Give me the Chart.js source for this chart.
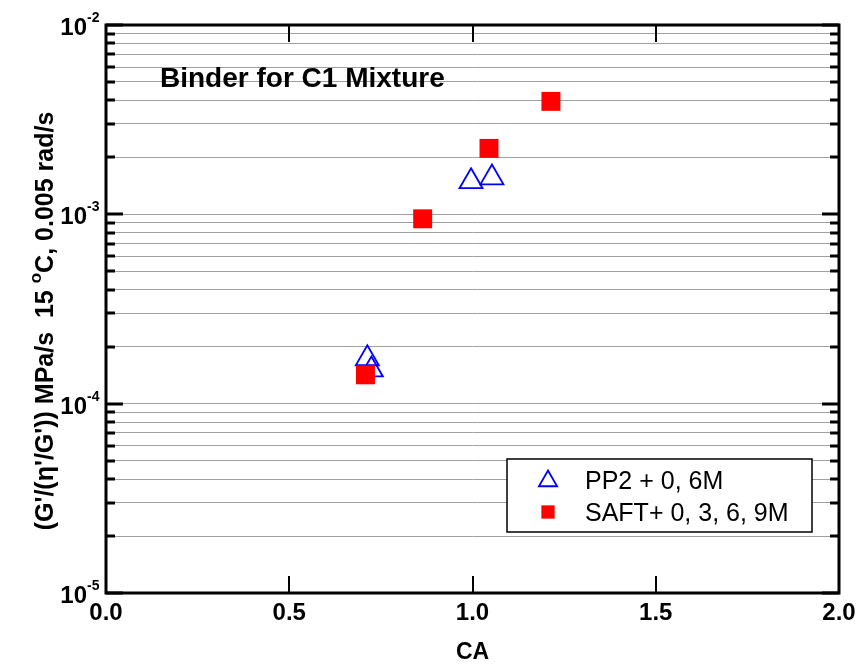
<!DOCTYPE html>
<html>
<head>
<meta charset="utf-8">
<script src="https://cdn.jsdelivr.net/npm/chart.js@4"></script>
<style>
  html, body { margin: 0; padding: 0; background: #fff; }
</style>
</head>
<body>
<canvas id="myChart" width="860" height="664"></canvas>
<script>
// values
const pp2X = [0.713, 0.724, 0.996, 1.053];
const pp2Y = [1.73e-4, 1.51e-4, 1.49e-3, 1.56e-3];
const saftX = [0.708, 0.864, 1.045, 1.214];
const saftY = [1.42e-4, 9.47e-4, 2.23e-3, 3.95e-3];

const seriesNames = ['PP2 + 0, 6M', 'SAFT+ 0, 3, 6, 9M'];
const xTicks = [0, 0.5, 1.0, 1.5, 2.0];
const xTickLabels = ['0.0', '0.5', '1.0', '1.5', '2.0'];
const yDecades = [1e-5, 1e-4, 1e-3, 1e-2];
const yDecadeExps = ['-5', '-4', '-3', '-2'];

const FONT = '"Liberation Sans", Arial, sans-serif';

function yGridValues() {
    let vals = [];
    for (let d = 0; d < yDecades.length - 1; d++) {
        for (let m = 1; m < 10; m++) vals.push(yDecades[d] * m);
    }
    vals.push(yDecades[yDecades.length - 1]);
    return vals;
}

function toPoints(xs, ys) {
    return xs.map((x, i) => ({ x: x, y: ys[i] }));
}

const framePlugin = {
    id: 'frame',
    afterDraw(chart) {
        let ctx = chart.ctx;
        let a = chart.chartArea;
        let xs = chart.scales.x;
        let ys = chart.scales.y;
        ctx.save();

        // frame
        ctx.strokeStyle = '#000';
        ctx.lineWidth = 3;
        ctx.strokeRect(a.left, a.top, a.right - a.left, a.bottom - a.top);

        // y ticks, inward on both sides
        yGridValues().forEach(v => {
            let y = Math.round(ys.getPixelForValue(v));
            let major = yDecades.indexOf(v) >= 0;
            let len = major ? 17 : 9;
            ctx.lineWidth = 3;
            ctx.beginPath();
            ctx.moveTo(a.left, y); ctx.lineTo(a.left + len, y);
            ctx.moveTo(a.right, y); ctx.lineTo(a.right - len, y);
            ctx.stroke();
        });

        // x ticks, inward top and bottom
        xTicks.forEach(v => {
            let x = Math.round(xs.getPixelForValue(v));
            ctx.lineWidth = 2;
            ctx.beginPath();
            ctx.moveTo(x, a.bottom); ctx.lineTo(x, a.bottom - 17);
            ctx.moveTo(x, a.top); ctx.lineTo(x, a.top + 17);
            ctx.stroke();
        });

        // x tick labels
        ctx.fillStyle = '#000';
        ctx.font = 'bold 24px ' + FONT;
        ctx.textAlign = 'center';
        ctx.textBaseline = 'alphabetic';
        xTicks.forEach((v, i) => {
            ctx.fillText(xTickLabels[i], xs.getPixelForValue(v), 620);
        });

        // y tick labels 10^n
        yDecades.forEach((v, i) => {
            let y = ys.getPixelForValue(v);
            ctx.font = 'bold 24px ' + FONT;
            ctx.textAlign = 'right';
            ctx.fillText('10', 87, y + 10);
            ctx.font = 'bold 14px ' + FONT;
            ctx.textAlign = 'left';
            ctx.fillText(yDecadeExps[i], 87, y - 3);
        });

        // x title
        ctx.font = 'bold 23px ' + FONT;
        ctx.textAlign = 'center';
        ctx.fillText('CA', (a.left + a.right) / 2, 659);

        // y title with superscript
        ctx.save();
        ctx.translate(53, 321);
        ctx.rotate(-Math.PI / 2);
        let p1 = "(G'/(\u03b7'/G')) MPa/s  15 ";
        let p2 = 'o';
        let p3 = 'C, 0.005 rad/s';
        ctx.textAlign = 'left';
        ctx.font = 'bold 25px ' + FONT;
        let w1 = ctx.measureText(p1).width;
        let w3 = ctx.measureText(p3).width;
        ctx.font = 'bold 17px ' + FONT;
        let w2 = ctx.measureText(p2).width;
        let x0 = -(w1 + w2 + w3) / 2;
        ctx.font = 'bold 25px ' + FONT;
        ctx.fillText(p1, x0, 0);
        ctx.font = 'bold 17px ' + FONT;
        ctx.fillText(p2, x0 + w1, -12);
        ctx.font = 'bold 25px ' + FONT;
        ctx.fillText(p3, x0 + w1 + w2, 0);
        ctx.restore();

        // annotation
        ctx.font = 'bold 28px ' + FONT;
        ctx.textAlign = 'left';
        ctx.fillText('Binder for C1 Mixture', 160, 87);

        // legend box
        let lx = 507, ly = 459, lw = 305, lh = 73;
        ctx.fillStyle = '#fff';
        ctx.fillRect(lx, ly, lw, lh);
        ctx.strokeStyle = '#000';
        ctx.lineWidth = 1.5;
        ctx.strokeRect(lx, ly, lw, lh);

        let ds = chart.data.datasets;
        // triangle entry
        ctx.strokeStyle = ds[0].borderColor;
        ctx.fillStyle = 'rgba(0,0,0,0)';
        ctx.lineWidth = ds[0].borderWidth;
        Chart.helpers.drawPoint(ctx, { pointStyle: 'triangle', radius: 10.5, rotation: 0, borderWidth: ds[0].borderWidth }, 548, 481);
        // square entry
        ctx.fillStyle = ds[1].backgroundColor;
        Chart.helpers.drawPoint(ctx, { pointStyle: 'rect', radius: 9.4, rotation: 0, borderWidth: 0 }, 548, 512);

        ctx.fillStyle = '#000';
        ctx.font = '25px ' + FONT;
        ctx.textAlign = 'left';
        ctx.fillText(seriesNames[0], 585, 489);
        ctx.fillText(seriesNames[1], 585, 521);

        ctx.restore();
    }
};

new Chart(document.getElementById('myChart'), {
    type: 'scatter',
    data: {
        datasets: [
            {
                label: seriesNames[0],
                data: toPoints(pp2X, pp2Y),
                pointStyle: 'triangle',
                pointRadius: 13.3,
                borderColor: '#0000ff',
                backgroundColor: 'rgba(0,0,0,0)',
                borderWidth: 1.8,
                order: 1
            },
            {
                label: seriesNames[1],
                data: toPoints(saftX, saftY),
                pointStyle: 'rect',
                pointRadius: 13.4,
                borderColor: '#ff0000',
                backgroundColor: '#ff0000',
                borderWidth: 0,
                order: 0
            }
        ]
    },
    options: {
        responsive: false,
        animation: false,
        devicePixelRatio: 1,
        layout: { padding: { left: 106, top: 25, right: 21, bottom: 71 } },
        plugins: { legend: { display: false }, tooltip: { enabled: false } },
        scales: {
            x: {
                type: 'linear',
                min: 0, max: 2,
                grid: { display: false, drawTicks: false },
                border: { display: false },
                ticks: { display: false }
            },
            y: {
                type: 'logarithmic',
                min: 1e-5, max: 1e-2,
                afterBuildTicks: scale => { scale.ticks = yGridValues().map(v => ({ value: v })); },
                grid: { color: '#a0a0a0', lineWidth: 1, drawTicks: false },
                border: { display: false },
                ticks: { display: false }
            }
        }
    },
    plugins: [framePlugin]
});
</script>
</body>
</html>
